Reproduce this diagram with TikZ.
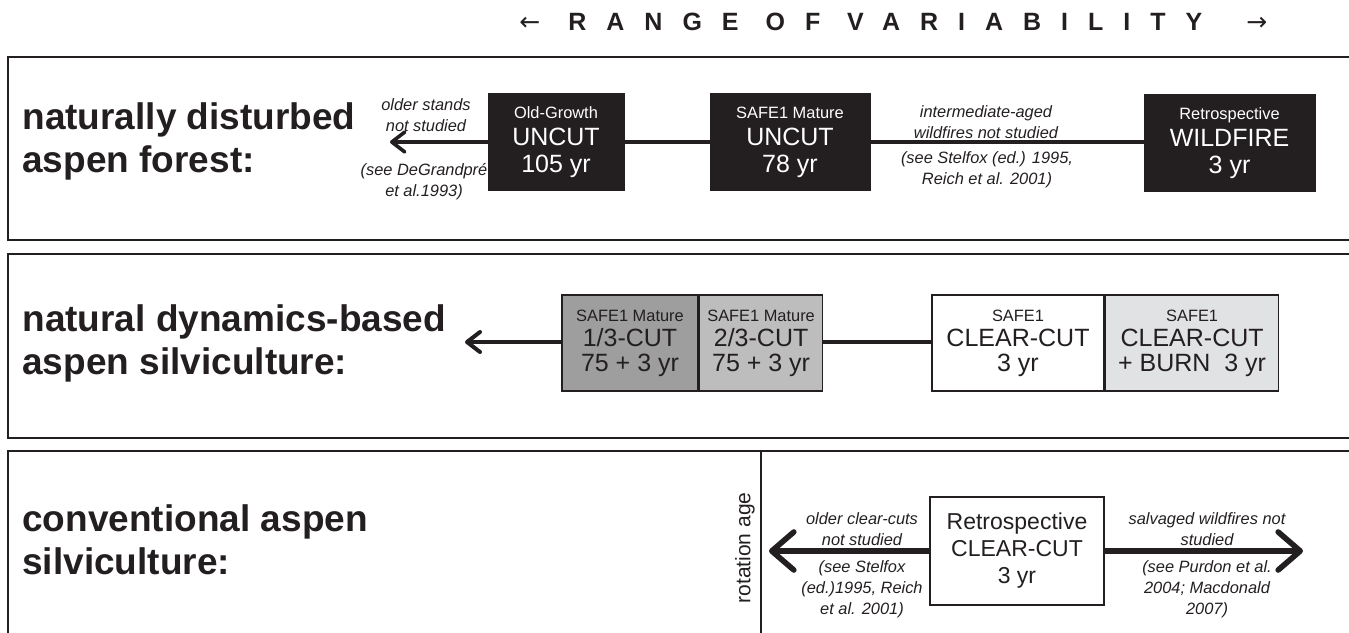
\documentclass[tikz,border=0pt]{standalone}
\usepackage{fontspec}
\setmainfont{Liberation Sans}
\newfontfamily\arrowfont{DejaVu Sans}
\usetikzlibrary{arrows.meta}
\definecolor{ink}{HTML}{231F20}
\definecolor{cutdark}{HTML}{9E9E9E}
\definecolor{cutlight}{HTML}{BDBDBD}
\definecolor{burngray}{HTML}{E1E2E4}
\begin{document}
\begin{tikzpicture}[x=0.5pt,y=-0.5pt,
  panelline/.style={draw=ink,line width=1pt},
  heading/.style={anchor=west,align=left,inner sep=0,text=ink,font=\fontsize{18.5}{21.5}\selectfont\bfseries},
  blackbox/.style={fill=ink,draw=ink,text=white,inner sep=0,align=center,minimum height=48.5pt,font=\fontsize{12.5}{13.5}\selectfont},
  lightbox/.style={draw=ink,line width=0.8pt,text=ink,inner sep=0,align=center,minimum height=48pt,font=\fontsize{12.5}{12.5}\selectfont},
  note/.style={align=center,inner sep=0,text=ink,font=\fontsize{8.2}{10.5}\selectfont\itshape},
  link/.style={draw=ink,line width=1.8pt},
  barb/.style={-{Straight Barb[length=6.5pt,width=10pt,round]}},
  bigbarb/.style={-{Straight Barb[length=11pt,width=19pt,round]}}
]
\useasboundingbox (0,0) rectangle (1349,632);
\begin{scope}
\clip (0,0) rectangle (1349,632);
\draw[panelline] (1360,57) -- (8,57) -- (8,240) -- (1360,240);
\draw[panelline] (1360,254) -- (8,254) -- (8,438) -- (1360,438);
\draw[panelline] (1360,451) -- (8,451) -- (8,640);
\draw[draw=ink,line width=0.8pt] (761,451) -- (761,640);
\end{scope}

% title
\node[anchor=west,inner sep=0,text=ink] (title) at (519,22)
  {\fontsize{12.5}{14}\selectfont{\arrowfont ←}\hspace{14pt}{\bfseries\addfontfeature{LetterSpace=80}RANGE OF VARIABILITY}\hspace{22pt}{\arrowfont →}};

% panel 1
\node[heading] (h1) at (22,141) {naturally disturbed\\aspen forest:};
\node[blackbox,minimum width=68pt] (og) at (556,142)
  {{\fontsize{8.2}{13.5}\selectfont Old-Growth}\\UNCUT\\105 yr};
\node[blackbox,minimum width=80pt] (mat) at (790,142)
  {{\fontsize{8.2}{13.5}\selectfont SAFE1 Mature}\\UNCUT\\78 yr};
\node[blackbox,minimum width=85.5pt] (wf) at (1229.5,143)
  {{\fontsize{8.2}{13.5}\selectfont Retrospective}\\WILDFIRE\\3 yr};
\coordinate (tip1) at (390,142);
\draw[link,barb] (og.west) -- (tip1);
\draw[link] (og.east) -- (mat.west);
\draw[link] (mat.east) -- (wf.west |- mat.east);
\node[note] (n1a) at (426,115) {older stands\\not studied};
\node[note] (n1b) at (424,182) {(see DeGrandpré\\et al.1993)};
\node[note] (n1c) at (986,122) {intermediate-aged\\wildfires not studied};
\node[note] (n1d) at (987,170) {(see Stelfox (ed.) 1995,\\Reich et al. 2001)};

% panel 2
\node[heading] (h2) at (22,343) {natural dynamics-based\\aspen silviculture:};
\node[lightbox,fill=cutdark,minimum width=68pt] (c13) at (630,343)
  {{\fontsize{8.2}{12.5}\selectfont SAFE1 Mature}\\1/3-CUT\\75 + 3 yr};
\node[lightbox,fill=cutlight,minimum width=61.5pt,anchor=west] (c23) at (c13.east)
  {{\fontsize{8.2}{12.5}\selectfont SAFE1 Mature}\\2/3-CUT\\75 + 3 yr};
\node[lightbox,fill=white,minimum width=86pt] (cc) at (1018,343)
  {{\fontsize{8.2}{12.5}\selectfont SAFE1}\\CLEAR-CUT\\3 yr};
\node[lightbox,fill=burngray,minimum width=86.5pt,anchor=west] (ccb) at (cc.east)
  {{\fontsize{8.2}{12.5}\selectfont SAFE1}\\CLEAR-CUT\\+ BURN\ \ 3 yr};
\coordinate (tip2) at (465,342);
\draw[link,line width=2pt,barb] (c13.west |- tip2) -- (tip2);
\draw[link,line width=2pt] (c23.east |- tip2) -- (cc.west |- tip2);

% panel 3
\node[heading] (h3) at (22,540) {conventional aspen\\silviculture:};
\node[inner sep=0,text=ink,rotate=90,font=\fontsize{10.5}{12}\selectfont] (rot) at (745,548) {rotation age};
\node[lightbox,fill=white,minimum width=87pt,minimum height=54pt,font=\fontsize{11.5}{13.5}\selectfont] (rc) at (1017,551)
  {Retrospective\\CLEAR-CUT\\3 yr};
\coordinate (tip3) at (769,551);
\coordinate (tip4) at (1303,551);
\draw[link,line width=2.8pt,bigbarb] (rc.west) -- (tip3);
\draw[link,line width=2.8pt,bigbarb] (rc.east) -- (tip4);
\node[note] (n3a) at (862,529) {older clear-cuts\\not studied};
\node[note] (n3b) at (862,589) {(see Stelfox\\(ed.)1995, Reich\\et al. 2001)};
\node[note] (n3c) at (1207,529) {salvaged wildfires not\\studied};
\node[note] (n3d) at (1207,589) {(see Purdon et al.\\2004; Macdonald\\2007)};
\end{tikzpicture}
\end{document}
